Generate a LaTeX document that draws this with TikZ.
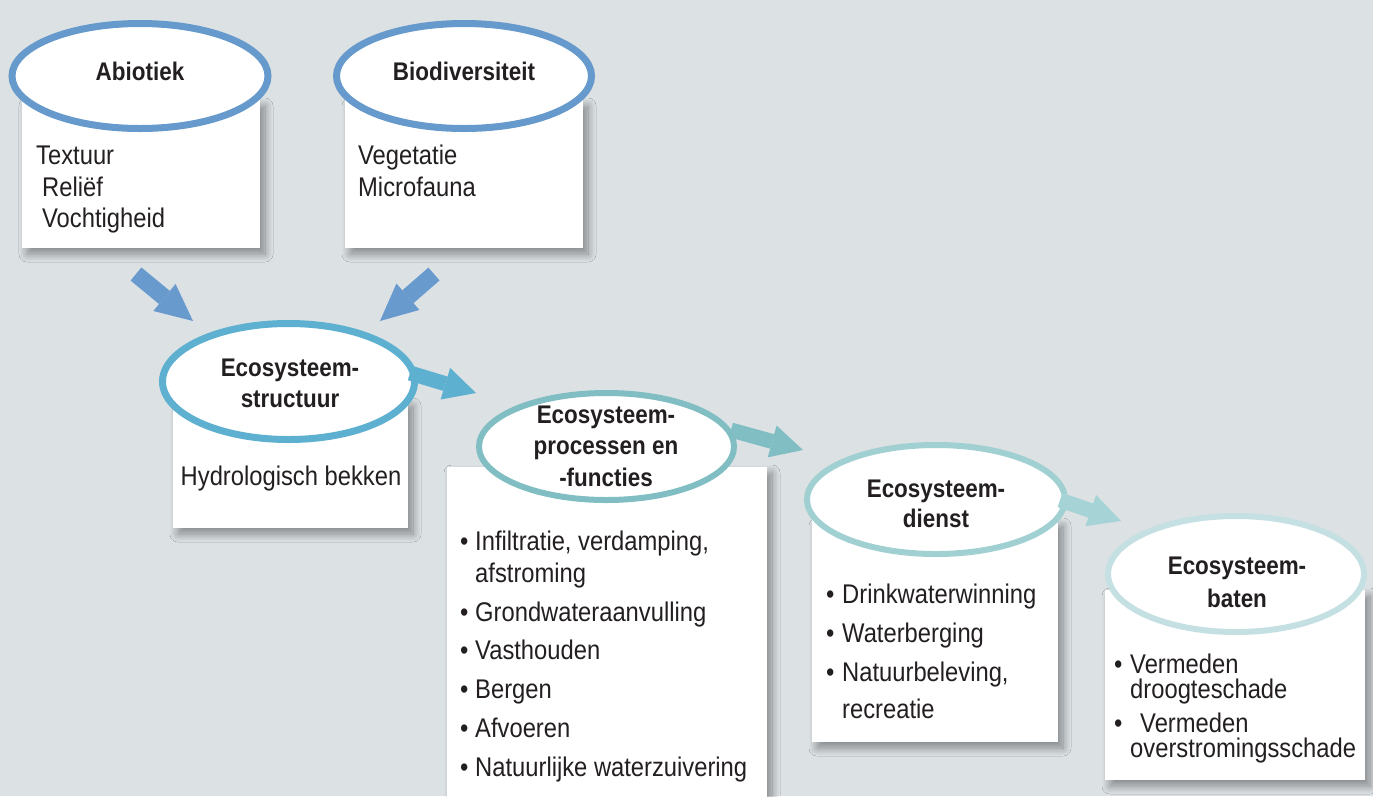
\documentclass[tikz,border=0pt]{standalone}
\usepackage{fontspec}
\setmainfont{Liberation Sans}[FakeStretch=0.88]
\usetikzlibrary{arrows.meta,shapes.geometric,shadows.blur}
\definecolor{bg}{RGB}{220,225,228}
\definecolor{txt}{RGB}{35,31,32}
\definecolor{cA}{RGB}{102,153,204}
\definecolor{cB}{RGB}{104,154,206}
\definecolor{cC}{RGB}{94,176,208}
\definecolor{cD}{RGB}{128,190,196}
\definecolor{cE}{RGB}{160,208,210}
\definecolor{cEa}{RGB}{166,212,214}
\definecolor{cF}{RGB}{196,224,226}
\tikzset{
  box/.style={rectangle, fill=white, inner sep=0pt, outer sep=0pt,
    blur shadow={shadow xshift=5pt, shadow yshift=-6pt, shadow blur radius=8pt, shadow blur steps=12, shadow opacity=40}},
  oval/.style={ellipse, fill=white, inner sep=0pt, outer sep=0pt},
  ttl/.style={anchor=base, inner sep=0pt, text=txt, font=\fontsize{25.5}{30}\selectfont\bfseries},
  bodyt/.style={anchor=base west, inner sep=0pt, text=txt, font=\fontsize{27}{31}\selectfont},
  blk/.style={line width=#1},
  bigtip/.style={-{Triangle[length=37pt,width=35pt,line width=0pt]}},
  smalltip/.style={-{Triangle[length=32pt,width=33pt,line width=0pt]}}
}
\begin{document}
\begin{tikzpicture}[x=1pt,y=-1pt]
\useasboundingbox (0,0) rectangle (1373,796);
\clip (0,0) rectangle (1373,796);
\fill[bg] (0,0) rectangle (1373,796);

% boxes
\node[box, minimum width=238pt, minimum height=148pt] (b1) at (141,174) {};
\node[box, minimum width=238pt, minimum height=148pt] (b2) at (464,174) {};
\node[box, minimum width=235pt, minimum height=128pt] (b3) at (290.5,464) {};
\node[box, minimum width=320pt, minimum height=353pt] (b4) at (607,643.5) {};
\node[box, minimum width=246pt, minimum height=222pt] (b5) at (935,631) {};
\node[box, minimum width=260pt, minimum height=190pt] (b6) at (1235,685) {};

% ellipses
\node[oval, draw=cA, line width=7pt, minimum width=256pt, minimum height=105pt] (e1) at (140,76) {};
\node[oval, draw=cA, line width=7pt, minimum width=255pt, minimum height=105pt] (e2) at (464,76) {};
\node[oval, draw=cC, line width=7pt, minimum width=252pt, minimum height=116pt] (e3) at (288.5,381.5) {};
\node[oval, draw=cD, line width=6pt, minimum width=255pt, minimum height=107pt] (e4) at (606.5,446.5) {};
\node[oval, draw=cE, line width=6pt, minimum width=258pt, minimum height=109pt] (e5) at (936,499.5) {};
\node[oval, draw=cF, line width=6pt, minimum width=256pt, minimum height=116pt] (e6) at (1236,574) {};

% titles
\node[ttl] (t1) at (140,80) {Abiotiek};
\node[ttl] (t2) at (464,80) {Biodiversiteit};
\node[ttl] (t3a) at (290,376) {Ecosysteem-};
\node[ttl] (t3b) at (290,407) {structuur};
\node[ttl] (t4a) at (606,423) {Ecosysteem-};
\node[ttl] (t4b) at (606,454) {processen en};
\node[ttl] (t4c) at (606,486) {-functies};
\node[ttl] (t5a) at (936,497) {Ecosysteem-};
\node[ttl] (t5b) at (936,527) {dienst};
\node[ttl] (t6a) at (1237,574) {Ecosysteem-};
\node[ttl] (t6b) at (1237,607) {baten};

% box texts
\node[bodyt] (x1a) at (36,164) {Textuur};
\node[bodyt] (x1b) at (42,196) {Reliëf};
\node[bodyt] (x1c) at (42,227) {Vochtigheid};
\node[bodyt] (x2a) at (358,164) {Vegetatie};
\node[bodyt] (x2b) at (358,196) {Microfauna};
\node[bodyt, anchor=base] (x3a) at (291,485) {Hydrologisch bekken};

\node[bodyt] (p4a) at (460,550) {•};
\node[bodyt] (x4a) at (475,550) {Infiltratie, verdamping,};
\node[bodyt] (x4b) at (475,582) {afstroming};
\node[bodyt] (p4c) at (460,621) {•};
\node[bodyt] (x4c) at (475,621) {Grondwateraanvulling};
\node[bodyt] (p4d) at (460,659) {•};
\node[bodyt] (x4d) at (475,659) {Vasthouden};
\node[bodyt] (p4e) at (460,698) {•};
\node[bodyt] (x4e) at (475,698) {Bergen};
\node[bodyt] (p4f) at (460,737) {•};
\node[bodyt] (x4f) at (475,737) {Afvoeren};
\node[bodyt] (p4g) at (460,776) {•};
\node[bodyt] (x4g) at (475,776) {Natuurlijke waterzuivering};

\node[bodyt] (p5a) at (826,603) {•};
\node[bodyt] (x5a) at (842,603) {Drinkwaterwinning};
\node[bodyt] (p5b) at (826,642) {•};
\node[bodyt] (x5b) at (842,642) {Waterberging};
\node[bodyt] (p5c) at (826,681) {•};
\node[bodyt] (x5c) at (842,681) {Natuurbeleving,};
\node[bodyt] (x5d) at (842,718) {recreatie};

\node[bodyt] (p6a) at (1114,673) {•};
\node[bodyt] (x6a) at (1130,673) {Vermeden};
\node[bodyt] (x6b) at (1130,698) {droogteschade};
\node[bodyt] (p6c) at (1114,732) {•};
\node[bodyt] (x6c) at (1140,732) {Vermeden};
\node[bodyt] (x6d) at (1130,757) {overstromingsschade};

% arrow end points
\coordinate (a1s) at (136,274);
\coordinate (a1e) at (193,321);
\coordinate (a2s) at (434,274);
\coordinate (a2e) at (380,321);
\coordinate (a3s) at (410,373);
\coordinate (a3e) at (476,393);
\coordinate (a4s) at (731,430);
\coordinate (a4e) at (803,450);
\coordinate (a5s) at (1060,500);
\coordinate (a5e) at (1121,521);

\draw[cB, blk=17pt, bigtip] (a1s) -- (a1e);
\draw[cB, blk=17pt, bigtip] (a2s) -- (a2e);
\draw[cC, blk=15pt, smalltip] (a3s) -- (a3e);
\draw[cD, blk=15pt, smalltip] (a4s) -- (a4e);
\draw[cEa, blk=15pt, smalltip] (a5s) -- (a5e);
\end{tikzpicture}
\end{document}
